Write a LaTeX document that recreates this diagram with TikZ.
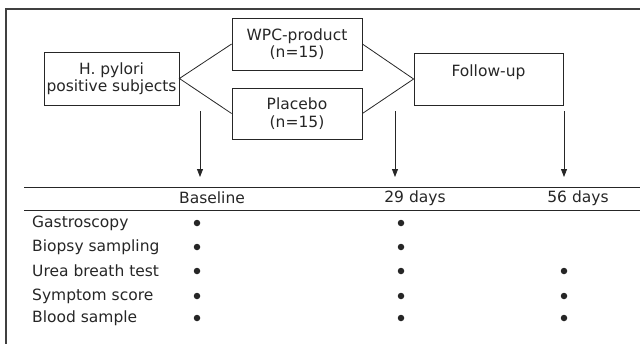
\documentclass[tikz,border=0pt]{standalone}
\usepackage{fontspec}
\setmainfont{DejaVu Sans}
\usetikzlibrary{arrows.meta}
\tikzset{
	box/.style={draw, line width=0.8pt, inner sep=0pt, align=center, font=\fontsize{15.5}{17.5}\selectfont},
	txt/.style={inner sep=0pt, font=\fontsize{15.5}{17}\selectfont},
	dot/.style={circle, fill, inner sep=0pt, minimum size=6.5pt},
	down/.style={-{Triangle[length=8pt,width=6pt]}, line width=0.8pt}
}
\begin{document}
\begin{tikzpicture}[x=1pt, y=-1pt, color=black!85]
		\clip ( 0, 0 ) rectangle ( 640, 343 );
		% рамка
		\draw [line width=1.2pt, black!75] ( 6, 350 ) -- ( 6, 9 ) -- ( 650, 9 );

		% схема исследования
		\node [box, minimum width=135pt, minimum height=53pt] (hp)   at ( 111.5, 78.5 ) {H. pylori\\positive subjects};
		\node [box, minimum width=130pt, minimum height=52pt] (wpc)  at ( 297.0, 44.0 ) {WPC-product\\(n=15)};
		\node [box, minimum width=130pt, minimum height=51pt] (plac) at ( 297.0, 113.5 ) {Placebo\\(n=15)};
		\node [box, minimum width=149pt, minimum height=52pt] (fu)   at ( 488.5, 79.0 ) {Follow-up\\\mbox{}};
		\draw [line width=0.8pt] (wpc.west) -- (hp.east) -- (plac.west);
		\draw [line width=0.8pt] (wpc.east) -- (fu.west) -- (plac.east);

		% стрелки
		\coordinate (a1) at ( 200, 111 ); \coordinate (b1) at ( 200, 177 );
		\coordinate (a2) at ( 395, 111 ); \coordinate (b2) at ( 395, 177 );
		\coordinate (a3) at ( 564, 111 ); \coordinate (b3) at ( 564, 177 );
		\draw [down] (a1) -- (b1);
		\draw [down] (a2) -- (b2);
		\draw [down] (a3) -- (b3);

		% таблица
		\coordinate (t1) at ( 24, 187 ); \coordinate (t2) at ( 650, 187 );
		\coordinate (t3) at ( 24, 210 ); \coordinate (t4) at ( 650, 210 );
		\draw [line width=1pt] (t1) -- (t2);
		\draw [line width=1pt] (t3) -- (t4);
		\node [txt] (base) at ( 212, 198 ) {Baseline};
		\node [txt] (d29)  at ( 415, 198 ) {29 days};
		\node [txt] (d56)  at ( 578, 198 ) {56 days};

		\node [txt, anchor=west] (gas) at ( 32, 223 ) {Gastroscopy};
		\node [txt, anchor=west] (bio) at ( 32, 247 ) {Biopsy sampling};
		\node [txt, anchor=west] (ure) at ( 32, 271 ) {Urea breath test};
		\node [txt, anchor=west] (sym) at ( 32, 296 ) {Symptom score};
		\node [txt, anchor=west] (blo) at ( 32, 318 ) {Blood sample};

		% отметки
		\foreach \y/\n in {223/gas, 247/bio, 271/ure, 296/sym, 318/blo} {
			\node [dot] (\n-b) at ( 197, \y ) {};
			\node [dot] (\n-m) at ( 401, \y ) {};
		}
		\foreach \y/\n in {271/ure, 296/sym, 318/blo}
			\node [dot] (\n-e) at ( 564, \y ) {};
	\end{tikzpicture}
\end{document}
